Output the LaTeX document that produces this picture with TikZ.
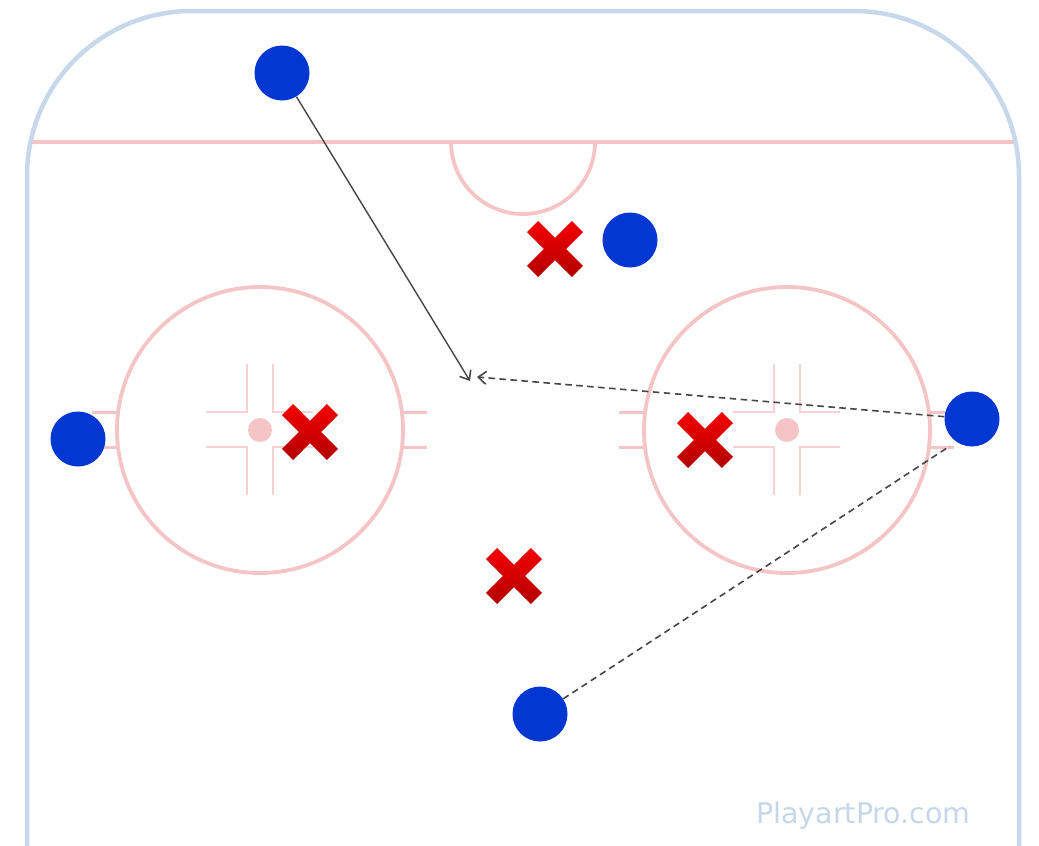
\documentclass[tikz,border=0pt]{standalone}
\usepackage{fontspec}
\newfontfamily\wmfont{DejaVu Sans}
\usetikzlibrary{arrows.meta}
\definecolor{boardblue}{RGB}{198,216,234}
\definecolor{rinkpink}{RGB}{245,196,198}
\definecolor{rinklight}{RGB}{246,208,210}
\definecolor{playerblue}{RGB}{3,55,210}
\definecolor{xtop}{RGB}{245,0,0}
\definecolor{xbot}{RGB}{178,0,0}
\definecolor{linegray}{RGB}{70,70,70}
\definecolor{wmblue}{RGB}{198,215,234}
\tikzset{
  boardline/.style={draw=boardblue, line width=4.5pt},
  pinkline/.style={draw=rinkpink, line width=3.8pt},
  hashline/.style={draw=rinkpink, line width=3pt},
  innerline/.style={draw=rinklight, line width=2.2pt},
  player/.style={circle, fill=playerblue, draw=none, minimum size=55pt, inner sep=0pt},
  solidpass/.style={draw=linegray, line width=1.4pt, -{Straight Barb[length=8pt,width=13pt,line width=1.6pt]}},
  dashpass/.style={draw=linegray, line width=1.6pt, dash pattern=on 6.5pt off 4.5pt},
  dasharrow/.style={dashpass, -{Straight Barb[length=8pt,width=13pt,line width=1.6pt]}},
  xmark/.pic={
    \shade[top color=xtop, bottom color=xbot]
      (-16.9,28) -- (0,11.1) -- (16.9,28) -- (28,16.9) -- (11.1,0) -- (28,-16.9)
      -- (16.9,-28) -- (0,-11.1) -- (-16.9,-28) -- (-28,-16.9) -- (-11.1,0) -- (-28,16.9) -- cycle;
  },
  faceoff/.pic={
    \draw[pinkline] (0,0) circle[radius=143];
    \fill[rinkpink] (0,0) circle[radius=12];
    \draw[innerline] (-13,-66) -- (-13,-18) -- (-54,-18);
    \draw[innerline] (13,-66) -- (13,-18) -- (53,-18);
    \draw[innerline] (-13,65) -- (-13,17) -- (-54,17);
    \draw[innerline] (13,65) -- (13,17) -- (53,17);
    \draw[hashline] (-168,-18) -- (-143,-18);
    \draw[hashline] (-168,17) -- (-143,17);
    \draw[hashline] (143,-18) -- (167,-18);
    \draw[hashline] (143,17) -- (167,17);
  }
}
\begin{document}
\begin{tikzpicture}[x=1pt,y=-1pt]
\useasboundingbox[fill=white] (0,0) rectangle (1039,846);
% rink markings
\draw[pinkline] (30,142) -- (1016,142);
\draw[pinkline] (451,142) arc[start angle=180, end angle=0, radius=72];
\pic at (260,430) {faceoff};
\pic at (787,430) {faceoff};
% boards
\draw[boardline] (27,850) -- (27,176) arc[start angle=180, end angle=270, radius=165]
  -- (854,11) arc[start angle=270, end angle=360, radius=165] -- (1019,850);
% opponents
\pic at (555,249) {xmark};
\pic at (310,432) {xmark};
\pic at (705,440) {xmark};
\pic at (514,576) {xmark};
% players
\node[player] (p1) at (282,73) {};
\node[player] (p2) at (630,240) {};
\node[player] (p3) at (78,439) {};
\node[player] (p4) at (972,419) {};
\node[player] (p5) at (540,714) {};
% connectors
\coordinate (c1) at (470,381);
\coordinate (c2) at (477,377);
\coordinate (c3) at (950,446);
\draw[solidpass] (p1) -- (c1);
\draw[dasharrow] (p4) -- (c2);
\draw[dashpass] (p5) -- (c3);
% watermark
\node[anchor=base west, inner sep=0pt, text=wmblue, font=\wmfont\fontsize{28.5}{30}\selectfont] (wm) at (756,823) {PlayartPro.com};
\end{tikzpicture}
\end{document}
